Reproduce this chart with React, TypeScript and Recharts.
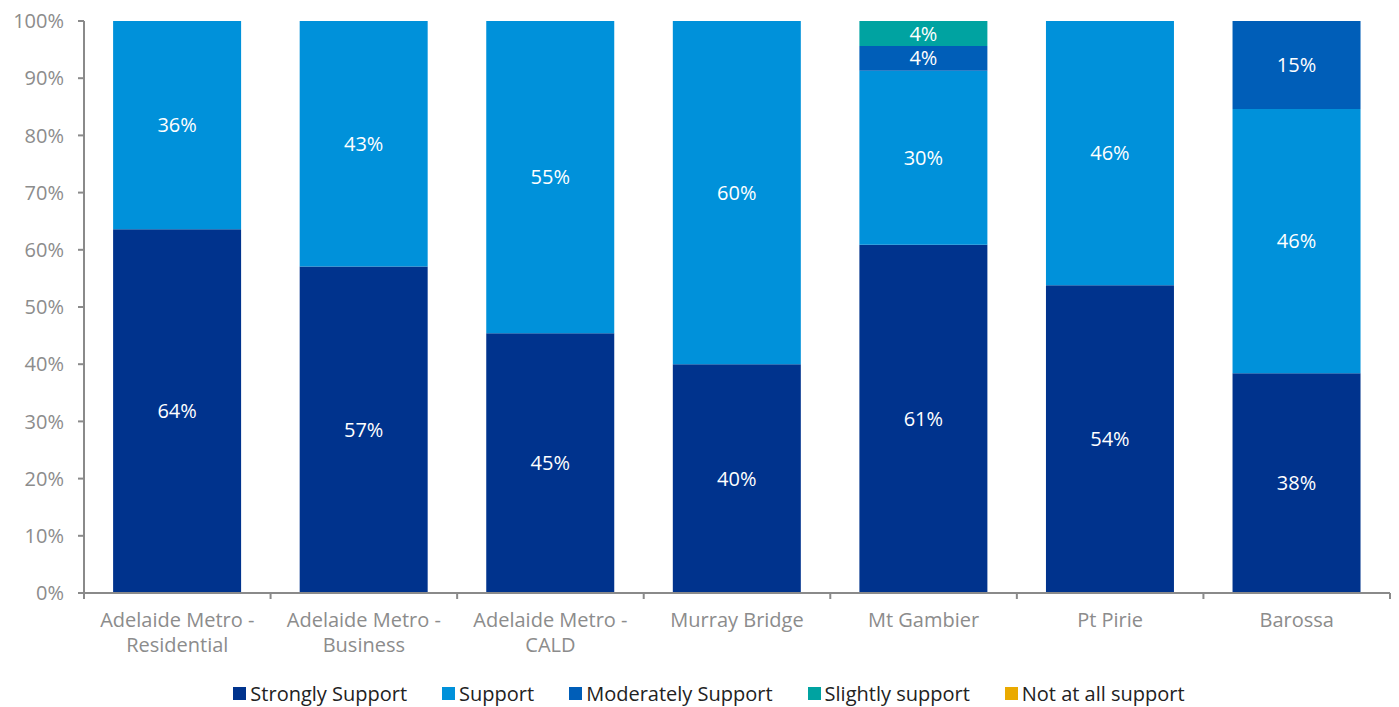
import React from 'react';
import { BarChart, Bar, XAxis, YAxis, Legend, LabelList } from 'recharts';

const regions = [
  'Adelaide Metro - Residential',
  'Adelaide Metro - Business',
  'Adelaide Metro - CALD',
  'Murray Bridge',
  'Mt Gambier',
  'Pt Pirie',
  'Barossa',
];
const stronglySupport = [63.6, 57.1, 45.4, 40.0, 60.9, 53.8, 38.4];
const support = [36.4, 42.9, 54.6, 60.0, 30.4, 46.2, 46.2];
const moderatelySupport = [0, 0, 0, 0, 4.35, 0, 15.4];
const slightlySupport = [0, 0, 0, 0, 4.35, 0, 0];
const notAtAllSupport = [0, 0, 0, 0, 0, 0, 0];
const yTicks = [0, 10, 20, 30, 40, 50, 60, 70, 80, 90, 100];

const series = [
  { key: 'strongly', name: 'Strongly Support', color: '#00338D', values: stronglySupport },
  { key: 'support', name: 'Support', color: '#0091DA', values: support },
  { key: 'moderately', name: 'Moderately Support', color: '#005EB8', values: moderatelySupport },
  { key: 'slightly', name: 'Slightly support', color: '#00A3A1', values: slightlySupport },
  { key: 'notAtAll', name: 'Not at all support', color: '#EAAA00', values: notAtAllSupport },
];

const data = regions.map((region, i) => {
  const row: any = { region };
  series.forEach((s) => (row[s.key] = s.values[i]));
  return row;
});

const FONT = '"Open Sans", sans-serif';
const AXIS = '#8a8a8a';
const W = 1399;
const H = 707;
const M = { top: 21, right: 9, left: 0, bottom: 0 };
const Y_W = 84;
const BAND = (W - M.left - M.right - Y_W) / regions.length;

const CategoryTick = (props: any) => {
  const { x, y, payload, index } = props;
  const text: string = payload.value;
  const lines = text.includes(' - ') ? [text.split(' - ')[0] + ' -', text.split(' - ')[1]] : [text];
  return (
    <g>
      {index === 0 && <line x1={x - BAND / 2} x2={x - BAND / 2} y1={y - 8} y2={y - 2} stroke={AXIS} strokeWidth={2} />}
      <line x1={x + BAND / 2} x2={x + BAND / 2} y1={y - 8} y2={y - 2} stroke={AXIS} strokeWidth={2} />
      <text x={x} y={y + 26} textAnchor="middle" fill="#8c8c8c" fontSize={20} fontFamily={FONT}>
        {lines.map((l, i) => (
          <tspan key={i} x={x} dy={i === 0 ? 0 : 25}>{l}</tspan>
        ))}
      </text>
    </g>
  );
};

const LegendContent = () => (
  <div style={{ display: 'flex', justifyContent: 'center', fontFamily: FONT, fontSize: 20, color: '#222', paddingLeft: 28 }}>
    {series.map((s, i) => (
      <div key={s.key} style={{ display: 'flex', alignItems: 'center', marginRight: i === series.length - 1 ? 0 : 35 }}>
        <span style={{ width: 13, height: 13, background: s.color, display: 'inline-block', marginRight: 4 }} />
        <span>{s.name}</span>
      </div>
    ))}
  </div>
);

const fmt = (v: any) => (Number(v) > 0 ? `${Math.round(Number(v))}%` : '');

export default function App() {
  return (
    <div style={{ position: 'absolute', left: 0, top: 0, width: W, height: H, background: '#fff' }}>
      <BarChart width={W} height={H} data={data} margin={M} barCategoryGap="15.6%">
        <XAxis
          dataKey="region"
          tick={<CategoryTick />}
          tickLine={false}
          axisLine={{ stroke: AXIS, strokeWidth: 2 }}
          interval={0}
          height={87}
        />
        <YAxis
          domain={[0, 100]}
          ticks={yTicks}
          tickFormatter={(v) => `${v}%`}
          width={Y_W}
          tickSize={6}
          tickMargin={14}
          axisLine={{ stroke: AXIS, strokeWidth: 2 }}
          tickLine={{ stroke: AXIS, strokeWidth: 2 }}
          tick={{ fill: '#8c8c8c', fontSize: 20, fontFamily: FONT }}
          interval={0}
        />
        <Legend verticalAlign="bottom" content={<LegendContent />} wrapperStyle={{ bottom: 0 }} />
        {series.map((s) => (
          <Bar key={s.key} dataKey={s.key} name={s.name} stackId="a" fill={s.color} isAnimationActive={false}>
            <LabelList dataKey={s.key} position="center" formatter={fmt} fill="#ffffff" fontSize={20} fontFamily={FONT} />
          </Bar>
        ))}
      </BarChart>
    </div>
  );
}
